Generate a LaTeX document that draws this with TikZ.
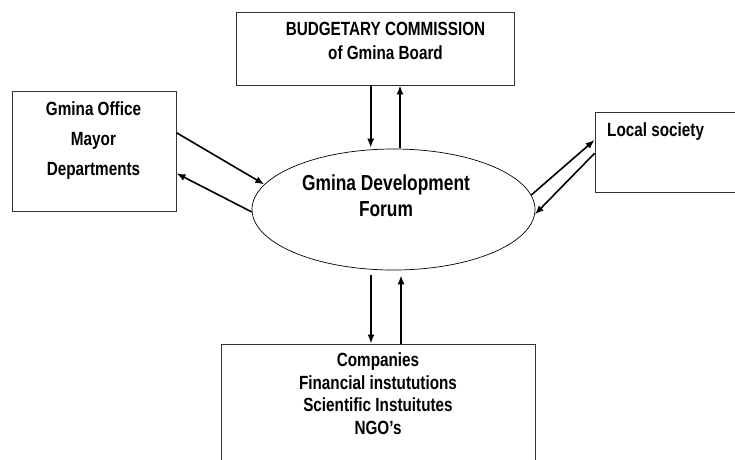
\documentclass[tikz,border=0pt]{standalone}
\usepackage{fontspec}
\setmainfont{Liberation Sans}[FakeStretch=0.8]
\usetikzlibrary{shapes.geometric,arrows.meta}

\begin{document}
\begin{tikzpicture}[x=1pt,y=-1pt,
	box/.style={draw=black!80, line width=0.9pt, inner sep=0pt},
	flow/.style={-{Latex[length=9pt,width=7pt]}, line width=1.6pt},
	txt/.style={inner sep=0pt, align=center, anchor=base},
	boxfont/.style={font={\fontsize{19.1}{#1}\selectfont\bfseries}}]
					\useasboundingbox (0,0) rectangle (735,459);
					\clip (0,0) rectangle (735,459);
					
					% boxes
					\node[box, minimum width=278, minimum height=73] (budget) at (375,48.5) {};
					\node[box, minimum width=164, minimum height=120] (office) at (94,151) {};
					\node[box, minimum width=160, minimum height=80] (society) at (675,152) {};
					\node[box, minimum width=314, minimum height=136] (partners) at (378,412) {};
					\node[draw, ellipse, line width=0.7pt, inner sep=0pt,
						minimum width=283, minimum height=121] (forum) at (393.5,209.5) {};
					
					% texts (placed on the baseline of their last line)
					\node[txt, boxfont=23.3] (budgettxt) at (385.5,59) {BUDGETARY COMMISSION\\of Gmina Board};
					\node[txt, boxfont=30] (officetxt) at (93.5,175) {Gmina Office\\Mayor\\Departments};
					\node[txt, boxfont=23, anchor=base west] (societytxt) at (607,136) {Local society};
					\node[txt, boxfont=22.4] (partnerstxt) at (378,434) {Companies\\Financial instututions\\Scientific Instuitutes\\NGO’s};
					\node[txt, font={\fontsize{21.7}{26}\selectfont\bfseries}] (forumtxt) at (386,216) {Gmina Development\\Forum};
					
					% arrows
					\draw[flow] ([xshift=-4.3]budget.south) -- ([xshift=-22.8,yshift=1]forum.north);
					\draw[flow] ([xshift=6.5,yshift=1]forum.north) -- ([xshift=25]budget.south);
					
					\draw[flow] ([xshift=-7,yshift=-5]partners.north |- forum.south) -- ([xshift=-7]partners.north);
					\draw[flow] ([xshift=23]partners.north) -- ([xshift=23,yshift=-5]partners.north |- forum.south);
					
					\draw[flow] ([yshift=18.3]office.east) -- (forum.169.6);
					\draw[flow] (forum.181) -- ([yshift=-22.3]office.east);
					
					\draw[flow] (forum.6.3) -- ([yshift=12]society.west);
					\draw[flow] ([yshift=-1.3]society.west) -- (forum.358.5);
					
				\end{tikzpicture}
\end{document}
